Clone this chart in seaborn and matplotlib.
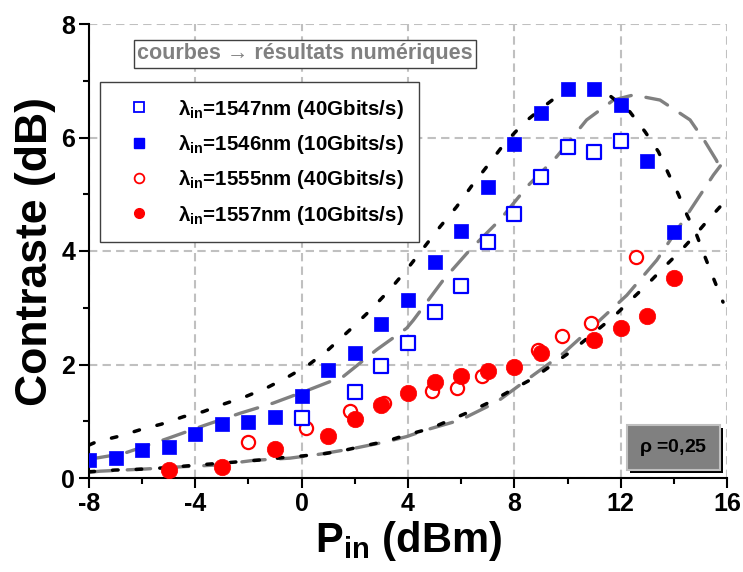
import matplotlib
matplotlib.use("Agg")
import matplotlib.pyplot as plt
import seaborn as sns
import pandas as pd
from matplotlib.lines import Line2D
from matplotlib.patches import Rectangle
from matplotlib.ticker import MultipleLocator

# measured points
sq_open_x = [0, 2, 3, 4, 5, 6, 7, 8, 9, 10, 11, 12]
sq_open_y = [1.05, 1.51, 1.98, 2.38, 2.92, 3.39, 4.16, 4.65, 5.31, 5.84, 5.75, 5.93]

sq_full_x = [-8, -7, -6, -5, -4, -3, -2, -1, 0, 1, 2, 3, 4, 5, 6, 7, 8, 9, 10, 11, 12, 13, 14]
sq_full_y = [0.32, 0.35, 0.49, 0.55, 0.77, 0.95, 0.99, 1.07, 1.45, 1.90, 2.20, 2.71, 3.14,
             3.81, 4.35, 5.13, 5.88, 6.44, 6.85, 6.85, 6.57, 5.59, 4.33]

ci_open_x = [-2.03, 0.16, 1.8, 3.1, 4.9, 5.85, 6.77, 8.9, 9.81, 10.88, 12.58]
ci_open_y = [0.64, 0.88, 1.18, 1.33, 1.53, 1.58, 1.79, 2.26, 2.50, 2.74, 3.89]

ci_full_x = [-5, -3, -1, 1, 2, 3, 4, 5, 6, 7, 8, 9, 11, 12, 13, 14]
ci_full_y = [0.14, 0.20, 0.51, 0.74, 1.04, 1.29, 1.50, 1.69, 1.80, 1.89, 1.96, 2.20,
             2.44, 2.65, 2.86, 3.53]

# numerical curves
d1_x = [-8, -7.71, -6.83, -6.08, -5.27, -4.45, -3.70, -2.95, -2.13, -1.31, -0.56, 0.25, 1.0,
        1.79, 2.57, 3.30, 3.95, 4.58, 5.21, 5.83, 6.40, 7.02, 7.59, 8.34, 9.09, 9.85, 10.6,
        11.4, 12.35, 12.92, 13.42, 13.79, 14.17, 14.5, 14.86, 15.17, 15.49, 15.85]
d1_y = [0.58, 0.64, 0.74, 0.85, 0.95, 1.08, 1.17, 1.30, 1.43, 1.59, 1.77, 1.99, 2.26,
        2.60, 2.95, 3.31, 3.67, 4.05, 4.43, 4.78, 5.15, 5.52, 5.87, 6.25, 6.54, 6.81, 6.91,
        6.81, 6.45, 6.10, 5.75, 5.37, 5.0, 4.63, 4.28, 3.90, 3.52, 3.10]

d2_x = [-8, -7.02, -6.27, -5.45, -4.64, -3.89, -3.07, -2.26, -1.5, -0.69, 0.06, 0.88, 1.63,
        2.38, 3.2, 3.95, 4.83, 5.58, 6.33, 7.09, 7.9, 8.72, 9.47, 10.22, 10.97, 11.73, 12.48,
        13.04, 13.73, 14.29, 14.8, 15.24, 15.74, 16]
d2_y = [0.11, 0.14, 0.15, 0.17, 0.20, 0.23, 0.26, 0.29, 0.32, 0.36, 0.39, 0.43, 0.49,
        0.57, 0.65, 0.76, 0.87, 1.02, 1.17, 1.34, 1.55, 1.76, 2.01, 2.26, 2.55, 2.84, 3.18,
        3.43, 3.76, 4.02, 4.28, 4.52, 4.78, 4.90]

g1_x = [-8, -6.71, -5.02, -3.64, -2.32, -1.07, 0.25, 1.57, 2.82, 3.95, 4.2, 5.33, 6.33,
        7.46, 8.53, 9.59, 10.72, 11.73, 12.48, 13.48, 14.61, 15.17, 15.6, 15.75]
g1_y = [0.33, 0.43, 0.70, 0.93, 1.14, 1.32, 1.55, 1.79, 2.26, 2.64, 2.78, 3.49, 4.02,
        4.55, 5.16, 5.66, 6.31, 6.66, 6.75, 6.66, 6.31, 5.93, 5.60, 5.45]

g2_x = [-8, -7.59, -5.83, -4.45, -3.14, -1.82, -0.44, 0.69, 1.94, 3.2, 3.95, 4.7, 5.96,
        7.34, 8.47, 9.85, 11.1, 12.23, 13.36, 14.49, 15.49, 15.75]
g2_y = [0.10, 0.12, 0.16, 0.20, 0.23, 0.31, 0.35, 0.42, 0.52, 0.64, 0.73, 0.85, 1.02,
        1.34, 1.73, 2.20, 2.73, 3.22, 3.84, 4.63, 5.34, 5.50]

labels = [r"$\mathrm{\lambda}_{\mathbf{in}}$=1547nm (40Gbits/s)",
          r"$\mathrm{\lambda}_{\mathbf{in}}$=1546nm (10Gbits/s)",
          r"$\mathrm{\lambda}_{\mathbf{in}}$=1555nm (40Gbits/s)",
          r"$\mathrm{\lambda}_{\mathbf{in}}$=1557nm (10Gbits/s)"]

sns.set_style("white")
plt.rcParams["font.family"] = ["Liberation Sans", "DejaVu Sans"]
plt.rcParams["font.weight"] = "bold"
plt.rcParams["mathtext.fontset"] = "custom"
plt.rcParams["mathtext.rm"] = "Liberation Sans"
plt.rcParams["mathtext.bf"] = "Liberation Sans:bold"
plt.rcParams["mathtext.it"] = "Liberation Sans:italic"
plt.rcParams["axes.unicode_minus"] = False
for key in ["text.color", "axes.labelcolor", "xtick.color", "ytick.color"]:
    plt.rcParams[key] = "black"

fig = plt.figure(figsize=(7.43, 5.72), dpi=100)
ax = fig.add_axes([89 / 743, 1 - 478 / 572, 638 / 743, 454 / 572])

gray = "#808080"
dash = (0, (7, 4.5))
dot = (0, (1.6, 5.2))

for cx, cy in [(g1_x, g1_y), (g2_x, g2_y)]:
    sns.lineplot(x=cx, y=cy, sort=False, estimator=None, color=gray, lw=2.4,
                 linestyle=dash, ax=ax, zorder=2)
for cx, cy in [(d1_x, d1_y), (d2_x, d2_y)]:
    sns.lineplot(x=cx, y=cy, sort=False, estimator=None, color="black", lw=2.5,
                 linestyle=dot, ax=ax, zorder=3)
for ln in ax.get_lines():
    ln.set_dash_capstyle("round")

sns.scatterplot(x=ci_open_x, y=ci_open_y, marker="o", s=90, facecolor="white",
                edgecolor="red", linewidth=1.6, ax=ax, zorder=4)
sns.scatterplot(x=ci_full_x, y=ci_full_y, marker="o", s=140, color="red",
                edgecolor="red", linewidth=0.5, ax=ax, zorder=5)
sns.scatterplot(x=sq_open_x, y=sq_open_y, marker="s", s=95, facecolor="white",
                edgecolor="blue", linewidth=1.6, ax=ax, zorder=4)
sns.scatterplot(x=sq_full_x, y=sq_full_y, marker="s", s=110, color="blue",
                edgecolor="blue", linewidth=0.5, ax=ax, zorder=5)

ax.set_xlim(-8, 16)
ax.set_ylim(0, 8)
ax.xaxis.set_major_locator(MultipleLocator(4))
ax.xaxis.set_minor_locator(MultipleLocator(2))
ax.yaxis.set_major_locator(MultipleLocator(2))
ax.yaxis.set_minor_locator(MultipleLocator(1))
ax.tick_params(which="major", direction="out", length=7, width=1.5, labelsize=18,
               bottom=True, left=True, pad=3, colors="black")
ax.tick_params(which="minor", direction="out", length=4, width=1.5, bottom=True, left=True)
for lab in ax.get_xticklabels() + ax.get_yticklabels():
    lab.set_fontweight("bold")

ax.grid(True, which="major", color="#c0c0c0", linestyle=(0, (4, 2.5)), lw=1.5)
ax.set_axisbelow(True)
for side in ["top", "right"]:
    ax.spines[side].set_visible(False)
for side in ["left", "bottom"]:
    ax.spines[side].set_color("black")
    ax.spines[side].set_linewidth(1.5)

ax.set_ylabel("Contraste (dB)", fontsize=32, fontweight="bold", labelpad=4)
ax.set_xlabel(r"$\mathbf{P}_{\mathbf{in}}$ (dBm)", fontsize=30, fontweight="bold", labelpad=2)

handles = [
    Line2D([], [], ls="", marker="s", ms=7, mfc="white", mec="blue", mew=1.3),
    Line2D([], [], ls="", marker="s", ms=7, mfc="blue", mec="blue"),
    Line2D([], [], ls="", marker="o", ms=7, mfc="white", mec="red", mew=1.3),
    Line2D([], [], ls="", marker="o", ms=7, mfc="red", mec="red"),
]
leg = ax.legend(handles, labels, loc="upper left", bbox_to_anchor=(0.017, 0.872),
                borderaxespad=0, fontsize=14.8, frameon=True, fancybox=False,
                framealpha=1, edgecolor="#404040", borderpad=0.75, labelspacing=0.6,
                handlelength=2.3, handletextpad=0.75)
leg.get_frame().set_linewidth(1.0)
for t in leg.get_texts():
    t.set_fontweight("bold")

ax.text(0.3386, 0.934, "courbes \u2192 résultats numériques", transform=ax.transAxes,
        ha="center", va="center", fontsize=15.5, fontweight="bold", color=gray,
        bbox=dict(boxstyle="square,pad=0.15", facecolor="white", edgecolor="#404040", lw=1),
        zorder=6)

# rho box with shadow
ax.add_patch(Rectangle((0.848, 0.011), 0.146, 0.099, transform=ax.transAxes,
                       facecolor="black", edgecolor="none", zorder=6, clip_on=False))
ax.add_patch(Rectangle((0.843, 0.0176), 0.146, 0.099, transform=ax.transAxes,
                       facecolor=gray, edgecolor="#c0c0c0", lw=1.5, zorder=7, clip_on=False))
ax.text(0.916, 0.067, r"$\mathrm{\rho}$ =0,25", transform=ax.transAxes, ha="center",
        va="center", fontsize=14, fontweight="bold", color="black", zorder=8)

fig.savefig("out.png", dpi=100)
